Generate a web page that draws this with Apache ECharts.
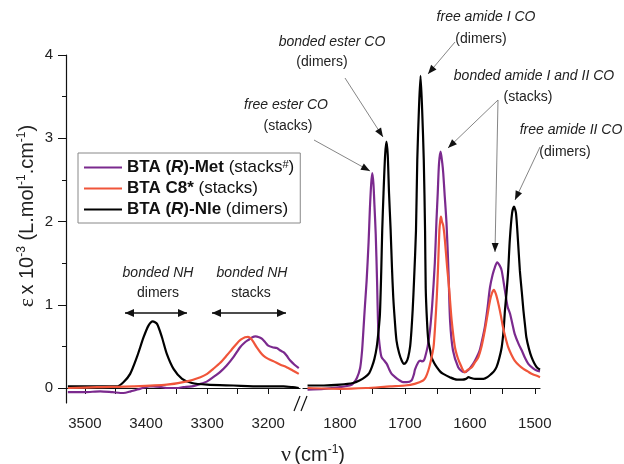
<!DOCTYPE html>
<html>
<head>
<meta charset="utf-8">
<script src="https://cdn.jsdelivr.net/npm/echarts@6/dist/echarts.min.js"></script>
<style>
  html, body { margin: 0; padding: 0; background: #fff; }
  #chart { width: 624px; height: 464px; }
</style>
</head>
<body>
<div id="chart"></div>
<script>
// spectra, [wavenumber cm-1, eps x 10^-3]
// left part of the broken axis: NH region
var nleNH = [[3528,0.02],[3519,0.02],[3490,0.02],[3465,0.02],[3448,0.02],[3437,0.07],[3426,0.17],[3415,0.37],[3404,0.61],[3396,0.75],[3389,0.80],[3382,0.77],[3374,0.61],[3366,0.41],[3355,0.23],[3341,0.11],[3325,0.06],[3300,0.04],[3257,0.03],[3213,0.02],[3175,0.02],[3160,0.01],[3150,0.0]];
var metNH = [[3528,-0.05],[3519,-0.05],[3500,-0.05],[3475,-0.04],[3455,-0.05],[3437,-0.06],[3425,-0.04],[3410,-0.01],[3395,0.02],[3388,0.02],[3375,0.01],[3366,0.0],[3350,0.0],[3339,0.01],[3325,0.02],[3311,0.05],[3300,0.08],[3290,0.13],[3279,0.19],[3268,0.27],[3257,0.37],[3246,0.49],[3238,0.55],[3232,0.58],[3226,0.61],[3221,0.62],[3215,0.61],[3210,0.59],[3205,0.55],[3200,0.51],[3193,0.49],[3186,0.48],[3180,0.45],[3175,0.43],[3170,0.39],[3164,0.33],[3157,0.28],[3150,0.24]];
var c8NH = [[3528,0.0],[3480,0.01],[3421,0.02],[3366,0.04],[3333,0.08],[3311,0.13],[3300,0.17],[3290,0.23],[3279,0.30],[3268,0.39],[3260,0.46],[3252,0.53],[3245,0.58],[3238,0.61],[3233,0.615],[3229,0.60],[3224,0.55],[3219,0.49],[3213,0.43],[3208,0.39],[3200,0.35],[3191,0.32],[3180,0.28],[3170,0.25],[3160,0.21],[3150,0.17]];

// right part: CO / amide region
var nleCO = [[1850,0.03],[1825,0.03],[1800,0.04],[1780,0.06],[1770,0.09],[1761.5,0.13],[1755,0.18],[1751,0.25],[1747,0.35],[1743.5,0.49],[1740.5,0.7],[1738.5,0.89],[1736.5,1.4],[1735,1.89],[1733,2.34],[1730.5,2.8],[1728.5,2.96],[1726.5,2.8],[1724.5,2.34],[1722,1.89],[1720,1.45],[1718,1.09],[1715.5,0.8],[1713,0.57],[1709,0.42],[1705,0.33],[1701.5,0.29],[1698,0.31],[1695,0.37],[1692,0.5],[1690,0.69],[1688,0.95],[1686,1.29],[1683,1.89],[1681,2.74],[1678.5,3.34],[1676,3.75],[1673.5,3.34],[1671,2.74],[1669,1.89],[1668,1.2],[1666,0.8],[1664,0.57],[1661,0.45],[1659,0.37],[1655,0.3],[1651,0.25],[1646,0.2],[1641,0.17],[1631,0.13],[1620,0.10],[1612,0.10],[1606,0.11],[1602,0.13],[1598,0.12],[1592,0.11],[1585,0.11],[1579,0.11],[1573,0.13],[1567,0.17],[1563,0.2],[1559,0.25],[1555,0.35],[1551,0.49],[1548,0.7],[1546,0.93],[1543.5,1.15],[1541,1.41],[1538.5,1.78],[1535,2.1],[1532,2.18],[1529,2.1],[1526,1.78],[1523,1.41],[1520,1.15],[1517.5,0.93],[1515,0.75],[1513,0.61],[1509,0.47],[1505,0.37],[1501,0.3],[1497,0.25],[1492,0.22]];
var metCO = [[1850,-0.02],[1825,-0.01],[1800,0.01],[1785,0.03],[1780,0.05],[1774,0.12],[1769,0.24],[1766,0.45],[1764,0.69],[1761.5,1.0],[1759,1.29],[1756,1.75],[1754,2.15],[1752,2.45],[1750.3,2.58],[1748.5,2.45],[1747,2.2],[1745,1.85],[1743,1.3],[1741,0.69],[1738.5,0.48],[1736,0.37],[1732,0.33],[1728,0.29],[1724,0.22],[1720.5,0.17],[1715,0.13],[1710,0.10],[1703,0.07],[1697,0.07],[1690,0.09],[1686,0.17],[1684.6,0.22],[1679.5,0.31],[1676,0.33],[1674,0.32],[1671,0.33],[1669,0.37],[1665,0.5],[1661.5,0.69],[1658,1.0],[1654,1.5],[1651.5,2.0],[1649.5,2.34],[1647.5,2.7],[1645,2.84],[1642.5,2.7],[1641,2.58],[1639,2.34],[1636,1.98],[1633,1.41],[1630.5,0.81],[1626,0.45],[1618,0.25],[1612,0.2],[1608,0.19],[1602,0.22],[1595,0.29],[1590,0.36],[1585,0.45],[1581,0.58],[1577,0.73],[1573,0.95],[1569,1.21],[1565,1.36],[1561.5,1.45],[1558,1.51],[1554,1.47],[1551,1.41],[1546,1.17],[1542,0.98],[1538,0.89],[1534,0.75],[1531,0.65],[1525,0.53],[1520,0.45],[1515,0.36],[1510,0.29],[1503,0.24],[1497,0.21],[1492,0.2]];
var c8CO = [[1850,0.0],[1800,-0.01],[1760,0.0],[1723,0.02],[1700,0.03],[1685,0.05],[1672,0.09],[1668,0.13],[1664,0.21],[1660,0.33],[1656,0.49],[1653.5,0.75],[1651,1.09],[1649,1.45],[1647,1.89],[1645.5,2.02],[1644.5,2.06],[1643,2.0],[1641,1.95],[1638.5,1.78],[1635,1.45],[1632,1.2],[1628,0.81],[1623,0.49],[1619,0.37],[1615,0.29],[1611,0.22],[1608,0.19],[1603,0.22],[1597,0.25],[1592,0.31],[1587,0.37],[1582,0.5],[1577,0.69],[1573,0.87],[1569,1.05],[1566,1.14],[1563,1.18],[1560,1.13],[1556,1.01],[1552,0.86],[1549,0.73],[1545,0.6],[1541,0.49],[1536,0.4],[1531,0.33],[1524,0.27],[1517.5,0.23],[1511,0.2],[1505,0.17],[1498,0.15],[1492,0.13]];

var leftTicks = [3500,3450,3400,3350,3300,3250,3200];
var leftLabels = [3500,3400,3300,3200];
var rightTicks = [1800,1750,1700,1650,1600,1550,1500];
var rightLabels = [1800,1700,1600,1500];
var yLabels = [0,1,2,3,4];
var yMinor = [0.5,1.5,2.5,3.5];

var names = ['BTA (R)-Met (stacks#)', 'BTA C8* (stacks)', 'BTA (R)-Nle (dimers)'];
var colors = ['#7b2a8e', '#f0553a', '#000000'];
var legendRich = {
  'BTA (R)-Met (stacks#)': '{b|BTA (}{bi|R}{b|)-Met} {n|(stacks}{sup|#}{n|)}',
  'BTA C8* (stacks)': '{b|BTA C8*} {n|(stacks)}',
  'BTA (R)-Nle (dimers)': '{b|BTA (}{bi|R}{b|)-Nle} {n|(dimers)}'
};

var FONT = 'Liberation Sans, Arial, sans-serif';

var myChart = echarts.init(document.getElementById('chart'));

function makeSeries(name, color, data, idx) {
  return {
    name: name,
    type: 'line',
    xAxisIndex: idx,
    yAxisIndex: idx === 0 ? 0 : 2,
    data: data,
    symbol: 'none',
    smooth: 0.25,
    color: color,
    lineStyle: { color: color, width: 2.2 },
    z: name.indexOf('C8') >= 0 ? 3 : 2
  };
}

// annotation texts and arrows (pixel layout)
var notes = [
  [486, 17, 'free amide I CO', true], [481, 39, '(dimers)', false],
  [332, 42, 'bonded ester CO', true], [322, 62, '(dimers)', false],
  [286, 105, 'free ester CO', true], [288, 126, '(stacks)', false],
  [534, 76, 'bonded amide I and II CO', true], [528, 97, '(stacks)', false],
  [571, 130, 'free amide II CO', true], [565, 152, '(dimers)', false],
  [158, 273, 'bonded NH', true], [158, 293, 'dimers', false],
  [252, 273, 'bonded NH', true], [251, 293, 'stacks', false]
];
var arrows = [[314,140,370,171],[345,78,383,137],[455,42,428,74],[498,100,448,148],[498,100,495,252],[540,147,515,200]];
var dblArrows = [[125,313,187,313],[212,313,286,313]];

function head(x1, y1, x2, y2, len, hw) {
  var dx = x2 - x1, dy = y2 - y1, d = Math.sqrt(dx*dx + dy*dy);
  var ux = dx / d, uy = dy / d;
  var bx = x2 - ux*len, by = y2 - uy*len;
  return { type: 'polygon', shape: { points: [[x2,y2],[bx - uy*hw, by + ux*hw],[bx + uy*hw, by - ux*hw]] }, style: { fill: '#111' }, z: 10 };
}

var graphics = [];
notes.forEach(function(n) {
  graphics.push({ type: 'text', x: n[0], y: n[1], z: 10,
    style: { text: n[2], fontFamily: FONT, fontSize: 14, fontStyle: n[3] ? 'italic' : 'normal', fill: '#222', align: 'center', verticalAlign: 'middle' } });
});
arrows.forEach(function(a) {
  graphics.push({ type: 'line', shape: { x1: a[0], y1: a[1], x2: a[2], y2: a[3] }, style: { stroke: '#777', lineWidth: 0.9 }, z: 9 });
  graphics.push(head(a[0], a[1], a[2], a[3], 9, 3.5));
});
dblArrows.forEach(function(a) {
  graphics.push({ type: 'line', shape: { x1: a[0], y1: a[1], x2: a[2], y2: a[3] }, style: { stroke: '#111', lineWidth: 1.5 }, z: 9 });
  graphics.push(head(a[0], a[1], a[2], a[3], 9, 4));
  graphics.push(head(a[2], a[3], a[0], a[1], 9, 4));
});
// axis break marks
graphics.push({ type: 'line', shape: { x1: 294, y1: 411, x2: 300, y2: 396 }, style: { stroke: '#111', lineWidth: 1.2 }, z: 10 });
graphics.push({ type: 'line', shape: { x1: 301, y1: 411, x2: 307, y2: 396 }, style: { stroke: '#111', lineWidth: 1.2 }, z: 10 });
// axis titles
var titleRich = {
  g: { fontFamily: 'Liberation Serif, serif', fontSize: 22, fill: '#222' },
  n: { fontFamily: FONT, fontSize: 20, fill: '#222' },
  s: { fontFamily: FONT, fontSize: 12, fill: '#222', verticalAlign: 'top' }
};
graphics.push({ type: 'text', x: 27, y: 216, rotation: Math.PI / 2, z: 10,
  style: { text: '{g|ε} {n|x 10}{s|-3}{n| (L.mol}{s|-1}{n|.cm}{s|-1}{n|)}', align: 'center', verticalAlign: 'middle', rich: titleRich } });
graphics.push({ type: 'text', x: 313, y: 455, z: 10,
  style: { text: '{g|ν} {n|(cm}{s|-1}{n|)}', align: 'center', verticalAlign: 'middle', rich: titleRich } });

var axisLine = { show: true, lineStyle: { color: '#111', width: 1.2 } };
var plain = function(v) { return String(v); };
var xLabel = { fontFamily: FONT, fontSize: 15, color: '#222', margin: 13, formatter: plain };

var option = {
  animation: false,
  backgroundColor: '#fff',
  grid: [
    { left: 66, top: 55, width: 234, height: 348 },
    { left: 303, top: 55, width: 237, height: 348 }
  ],
  xAxis: [
    { gridIndex: 0, type: 'value', min: 3148, max: 3531, inverse: true, axisLine: axisLine,
      axisTick: { show: true, length: 6, customValues: leftTicks, lineStyle: { color: '#111' } },
      axisLabel: Object.assign({ customValues: leftLabels }, xLabel), splitLine: { show: false } },
    { gridIndex: 1, type: 'value', min: 1492, max: 1857, inverse: true, axisLine: axisLine,
      axisTick: { show: true, length: 6, customValues: rightTicks, lineStyle: { color: '#111' } },
      axisLabel: Object.assign({ customValues: rightLabels }, xLabel), splitLine: { show: false } }
  ],
  yAxis: [
    { gridIndex: 0, type: 'value', position: 'left', min: -0.18, max: 4, axisLine: axisLine,
      axisTick: { show: true, length: 8, customValues: yLabels, lineStyle: { color: '#111' } },
      axisLabel: { customValues: yLabels, fontFamily: FONT, fontSize: 15, color: '#222', margin: 13, formatter: plain },
      splitLine: { show: false } },
    { gridIndex: 0, type: 'value', position: 'left', offset: 0, min: -0.18, max: 4, axisLine: { show: false },
      axisTick: { show: true, length: 4, customValues: yMinor, lineStyle: { color: '#111' } },
      axisLabel: { show: false }, splitLine: { show: false } },
    { gridIndex: 1, type: 'value', min: -0.18, max: 4, show: false }
  ],
  legend: {
    data: names,
    orient: 'vertical',
    left: 78, top: 153,
    padding: [6, 6, 5, 6],
    itemGap: 4,
    itemWidth: 38, itemHeight: 2,
    icon: 'rect',
    borderColor: '#888', borderWidth: 1,
    formatter: function(n) { return legendRich[n]; },
    textStyle: {
      fontFamily: FONT, fontSize: 17, color: '#111',
      rich: {
        b: { fontFamily: FONT, fontSize: 17, fontWeight: 'bold', color: '#111' },
        bi: { fontFamily: FONT, fontSize: 17, fontWeight: 'bold', fontStyle: 'italic', color: '#111' },
        n: { fontFamily: FONT, fontSize: 17, color: '#111' },
        sup: { fontFamily: FONT, fontSize: 11, color: '#111', verticalAlign: 'top' }
      }
    }
  },
  graphic: graphics,
  series: [
    makeSeries(names[0], colors[0], metNH, 0),
    makeSeries(names[1], colors[1], c8NH, 0),
    makeSeries(names[2], colors[2], nleNH, 0),
    makeSeries(names[0], colors[0], metCO, 1),
    makeSeries(names[1], colors[1], c8CO, 1),
    makeSeries(names[2], colors[2], nleCO, 1)
  ]
};
myChart.setOption(option);
window.addEventListener('resize', function() { myChart.resize(); });
</script>
</body>
</html>
